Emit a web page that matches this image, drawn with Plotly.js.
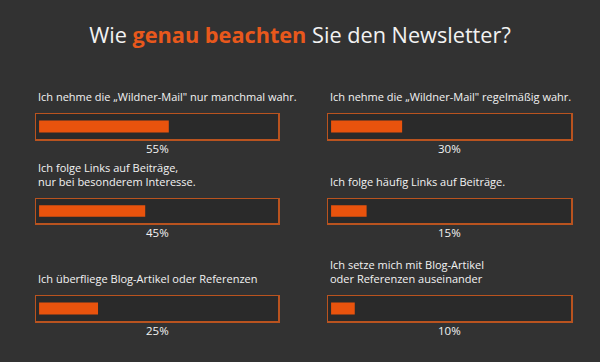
<!DOCTYPE html>
<html>
<head>
<meta charset="utf-8">
<script src="https://cdn.plot.ly/plotly-3.0.1.min.js"></script>
<style>html,body{margin:0;padding:0;background:#323232;}#chart{width:600px;height:362px;}</style>
</head>
<body>
<div id="chart"></div>
<script>
// Data
const labels = [
  "Ich nehme die „Wildner-Mail\" nur manchmal wahr.",
  "Ich nehme die „Wildner-Mail\" regelmäßig wahr.",
  "Ich folge Links auf Beiträge,<br>nur bei besonderem Interesse.",
  "Ich folge häufig Links auf Beiträge.",
  "Ich überfliege Blog-Artikel oder Referenzen",
  "Ich setze mich mit Blog-Artikel<br>oder Referenzen auseinander"
];
const values = [55, 30, 45, 15, 25, 10];
const titleText = "Wie <b><span style='color:#e8581c'>genau beachten</span></b> Sie den Newsletter?";

// Layout helpers
const W = 600, H = 362;
const colPx = [[36, 278], [328, 571]];
const rowPx = [[114, 139], [199, 223], [296, 321]];
const orange = '#e9530d';
const border = '#b9531f';
const txt = '#f2f2f2';
const font = 'Open Sans, sans-serif';

const traces = [];
const layout = {
  width: W, height: H,
  margin: {l: 0, r: 0, t: 0, b: 0},
  paper_bgcolor: '#323232',
  plot_bgcolor: '#2a2a2a',
  showlegend: false,
  title: {
    text: titleText,
    font: {family: font, size: 21.7, color: txt},
    x: 0.5, xanchor: 'center',
    y: 1 - 35 / H, yanchor: 'middle'
  },
  annotations: []
};

values.forEach((v, i) => {
  const n = i + 1;
  const col = i % 2, row = Math.floor(i / 2);
  const xa = n === 1 ? 'x' : 'x' + n;
  const ya = n === 1 ? 'y' : 'y' + n;
  const xkey = n === 1 ? 'xaxis' : 'xaxis' + n;
  const ykey = n === 1 ? 'yaxis' : 'yaxis' + n;
  traces.push({
    type: 'bar', orientation: 'h',
    x: [v], y: [0], width: 0.48,
    marker: {color: orange, line: {width: 0}},
    xaxis: xa, yaxis: ya, hoverinfo: 'skip'
  });
  layout[xkey] = {
    domain: [colPx[col][0] / W, colPx[col][1] / W],
    range: [-1.3, 101.3], fixedrange: true,
    showgrid: false, zeroline: false, showticklabels: false, ticks: '',
    showline: true, mirror: true, linecolor: border, linewidth: 1.5,
    anchor: ya
  };
  layout[ykey] = {
    domain: [1 - rowPx[row][1] / H, 1 - rowPx[row][0] / H],
    range: [-0.5, 0.5], fixedrange: true,
    showgrid: false, zeroline: false, showticklabels: false, ticks: '',
    showline: true, mirror: true, linecolor: border, linewidth: 1.5,
    anchor: xa
  };
  layout.annotations.push({
    text: labels[i],
    xref: xa + ' domain', yref: ya + ' domain',
    x: 0, y: 1, xanchor: 'left', yanchor: 'bottom', align: 'left',
    yshift: 8, showarrow: false,
    font: {family: font, size: 11, color: txt}
  });
  layout.annotations.push({
    text: v + '%',
    xref: xa + ' domain', yref: ya + ' domain',
    x: 0.5, y: 0, xanchor: 'center', yanchor: 'top',
    yshift: 0, showarrow: false,
    font: {family: font, size: 11.5, color: txt}
  });
});

Plotly.newPlot('chart', traces, layout, {displayModeBar: false, staticPlot: true});
</script>
</body>
</html>
